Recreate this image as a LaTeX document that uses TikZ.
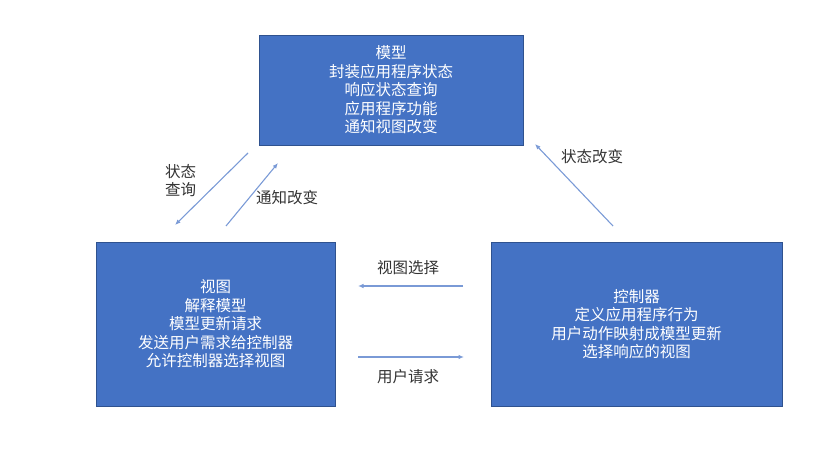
\documentclass[tikz,border=0pt]{standalone}
\usepackage{fontspec}
\setmainfont{Noto Sans CJK SC}
\usetikzlibrary{arrows.meta}
\definecolor{boxfill}{HTML}{4472C4}
\definecolor{boxline}{HTML}{2F528F}
\definecolor{arrowc}{HTML}{7A9AD6}
\definecolor{labelc}{HTML}{333333}
\tikzset{
  mvcbox/.style={draw=boxline, line width=0.9pt, fill=boxfill, text=white, align=center,
    inner sep=0pt, font=\fontsize{15.5}{18.5}\selectfont},
  lbl/.style={text=labelc, align=left, inner sep=0pt, font=\fontsize{15.5}{18.5}\selectfont},
  flow/.style={draw=arrowc, line width=1.1pt, -{Latex[length=5.5pt,width=4.5pt]}}
}
\begin{document}
\begin{tikzpicture}[x=1pt,y=-1pt]
\useasboundingbox (0,0) rectangle (822,460);
\node[mvcbox, minimum width=264pt, minimum height=110pt] (model) at (391,90)
  {模型\\封装应用程序状态\\响应状态查询\\应用程序功能\\通知视图改变};
\node[mvcbox, minimum width=239pt, minimum height=164pt] (view) at (215.5,324)
  {视图\\解释模型\\模型更新请求\\发送用户需求给控制器\\允许控制器选择视图};
\node[mvcbox, minimum width=291pt, minimum height=164pt] (ctrl) at (636.5,324)
  {控制器\\定义应用程序行为\\用户动作映射成模型更新\\选择响应的视图};

\coordinate (q1) at (248,153);
\coordinate (q2) at (175,225);
\coordinate (n1) at (226,226);
\coordinate (n2) at (278,163);
\coordinate (s1) at (463,286);
\coordinate (s2) at (358,286);
\coordinate (r1) at (358,357);
\coordinate (r2) at (464,357);
\coordinate (c1) at (613,226);
\coordinate (c2) at (535,144);

\draw[flow] (q1) -- (q2);
\draw[flow] (n1) -- (n2);
\draw[flow] (s1) -- (s2);
\draw[flow] (r1) -- (r2);
\draw[flow] (c1) -- (c2);

\node[lbl, anchor=west] (lq) at (165,180.5) {状态\\查询};
\node[lbl] (ln) at (287,198) {通知改变};
\node[lbl] (ls) at (408,268) {视图选择};
\node[lbl] (lr) at (408,377) {用户请求};
\node[lbl] (lc) at (592,157) {状态改变};
\end{tikzpicture}
\end{document}
